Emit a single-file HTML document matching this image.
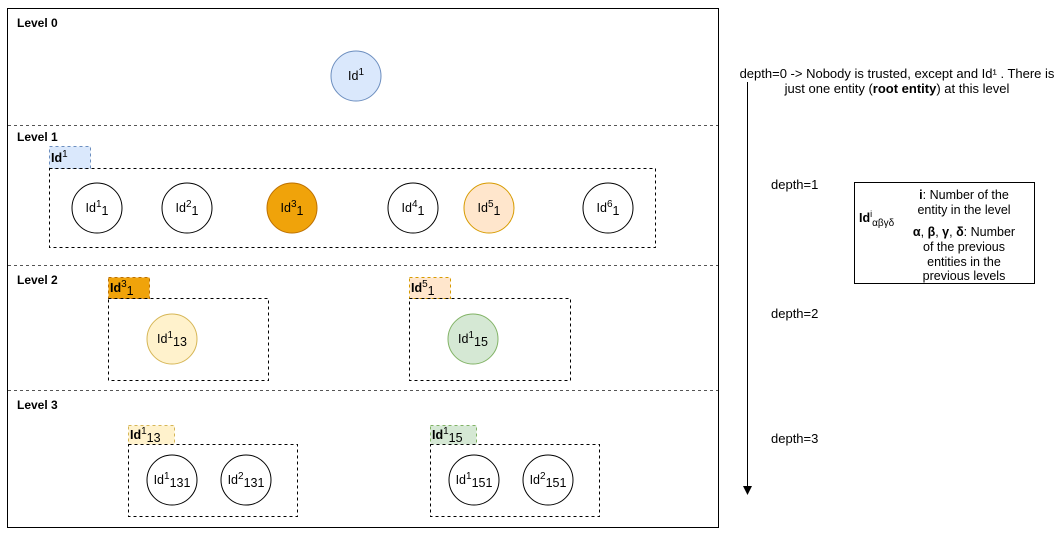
<!DOCTYPE html>
<html><head><meta charset="utf-8"><style>
html,body{margin:0;padding:0;background:#fff;}
svg{display:block;font-family:"Liberation Sans",sans-serif;}
</style></head><body>
<svg width="1062" height="536" viewBox="0 0 1062 536" xmlns="http://www.w3.org/2000/svg">
<rect x="7.5" y="8.5" width="711" height="519" fill="#fff" stroke="#000" stroke-width="1"/>
<g stroke="#555" stroke-dasharray="3,3" stroke-width="1">
<line x1="8" y1="125.5" x2="718" y2="125.5"/>
<line x1="8" y1="265.5" x2="718" y2="265.5"/>
<line x1="8" y1="390.5" x2="718" y2="390.5"/>
</g>
<g font-size="12" font-weight="bold" fill="#000">
<text x="17" y="27">Level 0</text>
<text x="17" y="141">Level 1</text>
<text x="17" y="284">Level 2</text>
<text x="17" y="409">Level 3</text>
</g>
<circle cx="356" cy="76" r="25" fill="#dae8fc" stroke="#6c8ebf"/>
<text x="356" y="80" font-size="12.5" text-anchor="middle">Id<tspan font-size="10" dy="-5">1</tspan></text>

<rect x="49.5" y="146.5" width="41" height="22" fill="#dae8fc" stroke="#6c8ebf" stroke-dasharray="3,3"/>
<text x="51" y="162" font-size="12.5" font-weight="bold">Id<tspan font-size="10" font-weight="normal" dy="-5">1</tspan></text>
<rect x="49.5" y="168.5" width="606" height="79" fill="none" stroke="#000" stroke-dasharray="3,3"/>
<g font-size="12.5" text-anchor="middle">
<circle cx="97" cy="208" r="25" fill="#fff" stroke="#000"/>
<text x="97" y="212">Id<tspan font-size="10" dy="-5">1</tspan><tspan dy="8">1</tspan></text>
<circle cx="187" cy="208" r="25" fill="#fff" stroke="#000"/>
<text x="187" y="212">Id<tspan font-size="10" dy="-5">2</tspan><tspan dy="8">1</tspan></text>
<circle cx="292" cy="208" r="25" fill="#f0a30a" stroke="#BD7000"/>
<text x="292" y="212">Id<tspan font-size="10" dy="-5">3</tspan><tspan dy="8">1</tspan></text>
<circle cx="413" cy="208" r="25" fill="#fff" stroke="#000"/>
<text x="413" y="212">Id<tspan font-size="10" dy="-5">4</tspan><tspan dy="8">1</tspan></text>
<circle cx="489" cy="208" r="25" fill="#ffe6cc" stroke="#d79b00"/>
<text x="489" y="212">Id<tspan font-size="10" dy="-5">5</tspan><tspan dy="8">1</tspan></text>
<circle cx="608" cy="208" r="25" fill="#fff" stroke="#000"/>
<text x="608" y="212">Id<tspan font-size="10" dy="-5">6</tspan><tspan dy="8">1</tspan></text>
</g>

<rect x="108.5" y="277.5" width="41" height="21" fill="#f0a30a" stroke="#BD7000" stroke-dasharray="3,3"/>
<text x="110" y="292" font-size="12.5" font-weight="bold">Id<tspan font-size="10" font-weight="normal" dy="-5">3</tspan><tspan font-weight="normal" dy="8">1</tspan></text>
<rect x="108.5" y="298.5" width="160" height="82" fill="none" stroke="#000" stroke-dasharray="3,3"/>
<circle cx="172" cy="339" r="25" fill="#fff2cc" stroke="#d6b656"/>
<text x="172" y="343" font-size="12.5" text-anchor="middle">Id<tspan font-size="10" dy="-5">1</tspan><tspan dy="8">13</tspan></text>

<rect x="409.5" y="277.5" width="41" height="21" fill="#ffe6cc" stroke="#d79b00" stroke-dasharray="3,3"/>
<text x="411" y="292" font-size="12.5" font-weight="bold">Id<tspan font-size="10" font-weight="normal" dy="-5">5</tspan><tspan font-weight="normal" dy="8">1</tspan></text>
<rect x="409.5" y="298.5" width="161" height="82" fill="none" stroke="#000" stroke-dasharray="3,3"/>
<circle cx="473" cy="339" r="25" fill="#d5e8d4" stroke="#82b366"/>
<text x="473" y="343" font-size="12.5" text-anchor="middle">Id<tspan font-size="10" dy="-5">1</tspan><tspan dy="8">15</tspan></text>

<rect x="128.5" y="425.5" width="46" height="19" fill="#fff2cc" stroke="#d6b656" stroke-dasharray="3,3"/>
<text x="130" y="439" font-size="12.5" font-weight="bold">Id<tspan font-size="10" font-weight="normal" dy="-5">1</tspan><tspan font-weight="normal" dy="8">13</tspan></text>
<rect x="128.5" y="444.5" width="169" height="72" fill="none" stroke="#000" stroke-dasharray="3,3"/>
<circle cx="172" cy="480" r="25" fill="#fff" stroke="#000"/>
<text x="172" y="484" font-size="12.5" text-anchor="middle">Id<tspan font-size="10" dy="-5">1</tspan><tspan dy="8">131</tspan></text>
<circle cx="246" cy="480" r="25" fill="#fff" stroke="#000"/>
<text x="246" y="484" font-size="12.5" text-anchor="middle">Id<tspan font-size="10" dy="-5">2</tspan><tspan dy="8">131</tspan></text>

<rect x="430.5" y="425.5" width="46" height="19" fill="#d5e8d4" stroke="#82b366" stroke-dasharray="3,3"/>
<text x="432" y="439" font-size="12.5" font-weight="bold">Id<tspan font-size="10" font-weight="normal" dy="-5">1</tspan><tspan font-weight="normal" dy="8">15</tspan></text>
<rect x="430.5" y="444.5" width="169" height="72" fill="none" stroke="#000" stroke-dasharray="3,3"/>
<circle cx="474" cy="480" r="25" fill="#fff" stroke="#000"/>
<text x="474" y="484" font-size="12.5" text-anchor="middle">Id<tspan font-size="10" dy="-5">1</tspan><tspan dy="8">151</tspan></text>
<circle cx="548" cy="480" r="25" fill="#fff" stroke="#000"/>
<text x="548" y="484" font-size="12.5" text-anchor="middle">Id<tspan font-size="10" dy="-5">2</tspan><tspan dy="8">151</tspan></text>

<line x1="747.5" y1="82" x2="747.5" y2="488" stroke="#000"/>
<polygon points="743,486 752,486 747.5,495" fill="#000"/>

<g font-size="13" fill="#000">
<text x="897" y="78" text-anchor="middle">depth=0 -&gt; Nobody is trusted, except and Id¹ . There is</text>
<text x="897" y="93" text-anchor="middle">just one entity (<tspan font-weight="bold">root entity</tspan>) at this level</text>
<text x="771" y="189">depth=1</text>
<text x="771" y="318">depth=2</text>
<text x="771" y="443">depth=3</text>
</g>

<rect x="854.5" y="182.5" width="180" height="101" fill="#fff" stroke="#000"/>
<text x="859" y="222" font-size="12.5" font-weight="bold">Id<tspan font-size="9" font-weight="normal" dy="-5">i</tspan><tspan font-size="10" font-weight="normal" dy="9">αβγδ</tspan></text>
<g font-size="12.5" text-anchor="middle">
<text x="964" y="199"><tspan font-weight="bold">i</tspan>: Number of the</text>
<text x="964" y="214">entity in the level</text>
<text x="964" y="236"><tspan font-weight="bold">α</tspan>, <tspan font-weight="bold">β</tspan>, <tspan font-weight="bold">γ</tspan>, <tspan font-weight="bold">δ</tspan>: Number</text>
<text x="964" y="251">of the previous</text>
<text x="964" y="266">entities in the</text>
<text x="964" y="280">previous levels</text>
</g>
</svg>
</body></html>
